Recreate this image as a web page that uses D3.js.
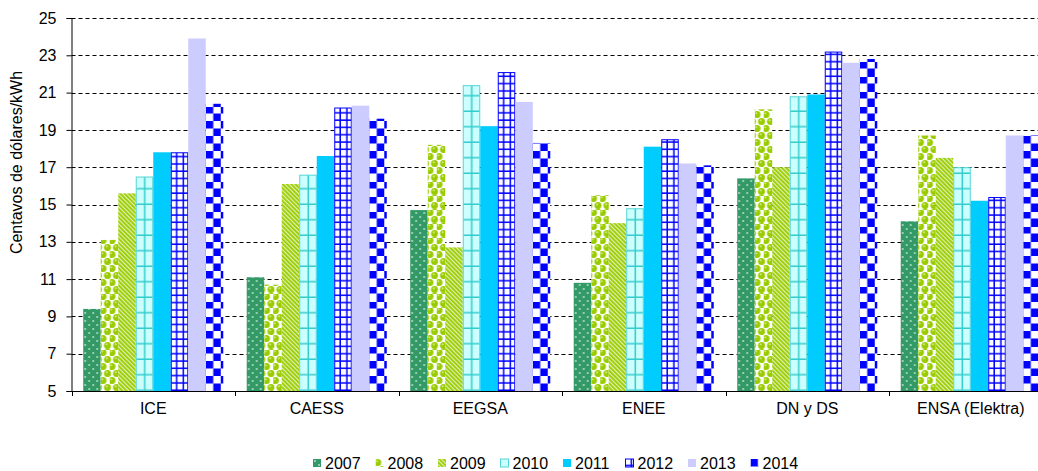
<!DOCTYPE html>
<html><head><meta charset="utf-8">
<script src="https://cdn.jsdelivr.net/npm/d3@7"></script>
<style>
html,body{margin:0;padding:0;background:#fff;}
svg{display:block;font-family:"Liberation Sans",Arial,sans-serif;}
</style></head>
<body><svg id="c" width="1038" height="471"></svg>
<script>
const categories = ["ICE","CAESS","EEGSA","ENEE","DN y DS","ENSA (Elektra)"];
const years = ["2007","2008","2009","2010","2011","2012","2013","2014"];
const v2007 = [9.4, 11.1, 14.7, 10.8, 16.4, 14.1];
const v2008 = [13.1, 10.7, 18.2, 15.5, 20.1, 18.7];
const v2009 = [15.6, 16.1, 12.7, 14.0, 17.0, 17.5];
const v2010 = [16.5, 16.6, 21.4, 14.8, 20.8, 17.0];
const v2011 = [17.8, 17.6, 19.2, 18.1, 20.9, 15.2];
const v2012 = [17.8, 20.2, 22.1, 18.5, 23.2, 15.4];
const v2013 = [23.9, 20.3, 20.5, 17.2, 22.6, 18.7];
const v2014 = [20.4, 19.6, 18.3, 17.1, 22.8, 18.7];
const seriesValues = [v2007, v2008, v2009, v2010, v2011, v2012, v2013, v2014];
const yTicks = [5,7,9,11,13,15,17,19,21,23,25];
const yTitle = "Centavos de dólares/kWh";

const svg = d3.select("#c");
const defs = svg.append("defs");
const L = 71.5, R = 1052.5, T = 18, B = 391;

const x0 = d3.scaleBand().domain(categories).range([L, R]).paddingInner(0).paddingOuter(0);
const x1 = d3.scaleBand().domain(years).range([0, x0.bandwidth()]).paddingInner(0).paddingOuter(0.67);
const y = d3.scaleLinear().domain([5, 25]).range([B, T]);

function makePattern(id, yi, ox, oy) {
  const p = defs.append("pattern").attr("id", id).attr("patternUnits", "userSpaceOnUse").attr("x", ox).attr("y", oy);
  switch (yi) {
    case 0: // dotted dark green
      p.attr("width", 8).attr("height", 8);
      p.append("rect").attr("width", 8).attr("height", 8).attr("fill", "#339966");
      p.append("circle").attr("cx", 2).attr("cy", 2).attr("r", 0.9).attr("fill", "#c4e6d0");
      p.append("circle").attr("cx", 6).attr("cy", 6).attr("r", 0.9).attr("fill", "#c4e6d0");
      break;
    case 1: // spheres yellow-green
      p.attr("width", 9).attr("height", 14);
      p.append("rect").attr("width", 9).attr("height", 14).attr("fill", "#ffffff");
      [[2.25,3.5],[6.75,10.5],[-2.25,10.5],[11.25,10.5],[6.75,-3.5],[2.25,17.5]].forEach(([cx,cy]) => {
        p.append("circle").attr("cx", cx).attr("cy", cy).attr("r", 3.5).attr("fill", "#99CC00");
        p.append("circle").attr("cx", cx - 0.8).attr("cy", cy - 1.2).attr("r", 1.1).attr("fill", "#cfe87a");
      });
      break;
    case 2: // diagonal stripes
      p.attr("width", 3).attr("height", 3).attr("patternTransform", "rotate(-45)");
      p.append("rect").attr("width", 3).attr("height", 3).attr("fill", "#e2f1b4");
      p.append("rect").attr("width", 1.8).attr("height", 3).attr("fill", "#99CC00");
      break;
    case 3: // large grid cyan
      p.attr("width", 15.5).attr("height", 15.5);
      p.append("rect").attr("width", 15.5).attr("height", 15.5).attr("fill", "#CCFFFF");
      p.append("rect").attr("x", 8.3).attr("y", 0).attr("width", 1.5).attr("height", 15.5).attr("fill", "#33CCCC");
      p.append("rect").attr("x", 0).attr("y", 14).attr("width", 15.5).attr("height", 1.5).attr("fill", "#33CCCC");
      break;
    case 5: // small grid blue
      p.attr("width", 6.7).attr("height", 7.3);
      p.append("rect").attr("width", 6.7).attr("height", 7.3).attr("fill", "#ffffff");
      p.append("rect").attr("x", 5.2).attr("y", 0).attr("width", 1.5).attr("height", 7.3).attr("fill", "#0000FF");
      p.append("rect").attr("x", 0).attr("y", 5.8).attr("width", 6.7).attr("height", 1.5).attr("fill", "#0000FF");
      break;
    case 7: // checkerboard blue
      p.attr("width", 15).attr("height", 15);
      p.append("rect").attr("width", 15).attr("height", 15).attr("fill", "#ffffff");
      p.append("rect").attr("x", 0).attr("y", 0).attr("width", 7.5).attr("height", 7.5).attr("fill", "#0000FF");
      p.append("rect").attr("x", 7.5).attr("y", 7.5).attr("width", 7.5).attr("height", 7.5).attr("fill", "#0000FF");
      break;
  }
}
const solid = {4: "#00CCFF", 6: "#CCCCFF"};
const strokes = {3: "#55D5D5", 5: "#0000FF"};

function fillFor(yi, ci, ox, oy) {
  if (solid[yi]) return solid[yi];
  const id = "p" + yi + "_" + ci;
  makePattern(id, yi, ox, oy);
  return "url(#" + id + ")";
}

// gridlines
svg.append("g").selectAll("line").data(yTicks.slice(1)).join("line")
  .attr("x1", L).attr("x2", 1038).attr("y1", d => Math.round(y(d)) + 0.5).attr("y2", d => Math.round(y(d)) + 0.5)
  .attr("stroke", "#000").attr("stroke-width", 1).attr("stroke-dasharray", "4,3");

// bars
const rows = [];
categories.forEach((c, ci) => years.forEach((yr, yi) => rows.push({c, ci, yr, yi, v: seriesValues[yi][ci]})));
const gb = svg.append("g");
rows.forEach(d => {
  const bx = x0(d.c) + x1(d.yr), bw = x1.bandwidth();
  const by = y(d.v), bh = B - by;
  const r = gb.append("rect").attr("x", bx).attr("y", by).attr("width", bw).attr("height", bh)
    .attr("fill", fillFor(d.yi, d.ci, bx, B));
  if (strokes[d.yi]) r.attr("stroke", strokes[d.yi]).attr("stroke-width", 1)
    .attr("x", bx + 0.5).attr("y", by + 0.5).attr("width", bw - 1).attr("height", bh - 1);
});

// y axis
const yAxis = d3.axisLeft(y).tickValues(yTicks).tickSize(5).tickPadding(10).tickFormat(d3.format("d"));
const gy = svg.append("g").attr("transform", `translate(${L},0)`).call(yAxis);
gy.select(".domain").attr("stroke", "#000");
gy.selectAll("text").attr("font-size", 16).attr("fill", "#000").attr("font-family", "Liberation Sans, Arial, sans-serif");

// x axis
const xAxis = d3.axisBottom(x0).tickSize(0).tickPadding(12);
const gx = svg.append("g").attr("transform", `translate(0,${B})`).call(xAxis);
gx.select(".domain").attr("stroke", "#000");
gx.selectAll("text").attr("font-size", 16).attr("fill", "#000").attr("font-family", "Liberation Sans, Arial, sans-serif");
svg.append("g").selectAll("line").data(categories).join("line")
  .attr("x1", d => Math.round(x0(d)) + 0.5).attr("x2", d => Math.round(x0(d)) + 0.5)
  .attr("y1", B).attr("y2", B + 5).attr("stroke", "#000");

// y title
svg.append("text").attr("transform", `translate(22,${(T + B) / 2 - 42}) rotate(-90)`)
  .attr("text-anchor", "middle").attr("font-size", 16).attr("fill", "#000").text(yTitle);

// legend
const lg = svg.append("g");
years.forEach((yr, yi) => {
  const lx = 313 + yi * 62.5, ly = 459;
  lg.append("rect").attr("x", lx).attr("y", ly).attr("width", 8).attr("height", 8)
    .attr("fill", fillFor(yi, "lg", lx, ly))
    .attr("stroke", strokes[yi] ? strokes[yi] : "none").attr("stroke-width", strokes[yi] ? 1 : 0);
  lg.append("text").attr("x", lx + 12).attr("y", 469).attr("font-size", 16).attr("fill", "#000").text(yr);
});
</script></body></html>
